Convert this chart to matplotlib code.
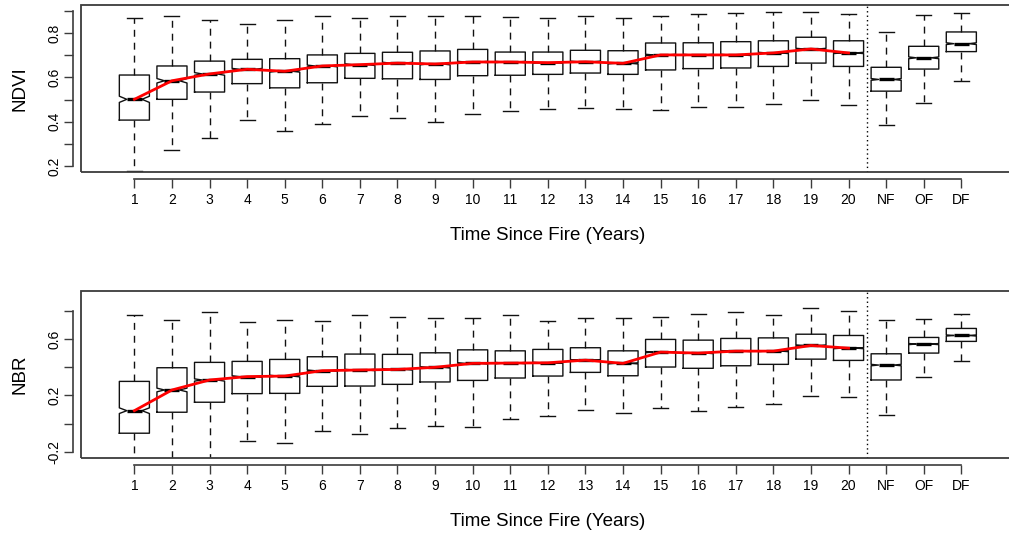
import numpy as np
import matplotlib
matplotlib.use("Agg")
import matplotlib.pyplot as plt
from matplotlib.patches import Rectangle

plt.rcParams['font.family'] = ['Liberation Sans', 'DejaVu Sans']

# Groups: years since fire, then unburnt reference forests
groups = [str(i) for i in range(1, 21)] + ['NF', 'OF', 'DF']

# NDVI box statistics per group
ndvi_whishi = [0.868, 0.877, 0.862, 0.841, 0.860, 0.878, 0.871, 0.878, 0.877, 0.878,
               0.874, 0.871, 0.880, 0.871, 0.880, 0.886, 0.891, 0.898, 0.896, 0.886,
               0.807, 0.884, 0.893]
ndvi_q3 = [0.611, 0.652, 0.674, 0.682, 0.685, 0.702, 0.709, 0.714, 0.720, 0.727,
           0.715, 0.715, 0.723, 0.721, 0.756, 0.757, 0.762, 0.766, 0.782, 0.766,
           0.646, 0.741, 0.806]
ndvi_med = [0.501, 0.585, 0.616, 0.637, 0.628, 0.652, 0.658, 0.665, 0.661, 0.670,
            0.670, 0.667, 0.671, 0.664, 0.702, 0.702, 0.702, 0.711, 0.729, 0.711,
            0.591, 0.689, 0.753]
ndvi_q1 = [0.407, 0.501, 0.534, 0.572, 0.553, 0.576, 0.596, 0.594, 0.591, 0.608,
           0.610, 0.614, 0.620, 0.614, 0.634, 0.640, 0.643, 0.650, 0.665, 0.650,
           0.538, 0.638, 0.717]
ndvi_whislo = [0.177, 0.272, 0.327, 0.408, 0.359, 0.388, 0.427, 0.417, 0.399, 0.433,
               0.449, 0.458, 0.460, 0.458, 0.451, 0.465, 0.465, 0.478, 0.496, 0.475,
               0.386, 0.484, 0.585]
ndvi_notch = [0.014, 0.010, 0.006, 0.004, 0.004, 0.004, 0.004, 0.004, 0.004, 0.003,
              0.003, 0.003, 0.003, 0.003, 0.003, 0.003, 0.003, 0.003, 0.003, 0.003,
              0.004, 0.004, 0.004]

# NBR box statistics per group
nbr_whishi = [0.772, 0.739, 0.796, 0.725, 0.739, 0.727, 0.768, 0.756, 0.749, 0.753,
              0.772, 0.730, 0.749, 0.749, 0.756, 0.777, 0.791, 0.772, 0.819, 0.803,
              0.735, 0.744, 0.779]
nbr_q3 = [0.300, 0.397, 0.435, 0.442, 0.456, 0.475, 0.494, 0.492, 0.503, 0.524,
          0.517, 0.527, 0.539, 0.517, 0.598, 0.593, 0.605, 0.609, 0.635, 0.626,
          0.496, 0.612, 0.676]
nbr_med = [0.092, 0.239, 0.310, 0.334, 0.338, 0.376, 0.381, 0.385, 0.400, 0.428,
           0.430, 0.432, 0.451, 0.428, 0.508, 0.501, 0.515, 0.515, 0.555, 0.536,
           0.416, 0.565, 0.626]
nbr_q1 = [-0.068, 0.081, 0.152, 0.213, 0.215, 0.265, 0.267, 0.279, 0.296, 0.307,
          0.324, 0.338, 0.364, 0.340, 0.402, 0.393, 0.411, 0.421, 0.458, 0.449,
          0.310, 0.501, 0.584]
nbr_whislo = [-0.350, -0.330, -0.320, -0.122, -0.141, -0.053, -0.073, -0.032, -0.014, -0.021,
              0.036, 0.055, 0.097, 0.076, 0.111, 0.090, 0.116, 0.138, 0.199, 0.187,
              0.062, 0.333, 0.446]
nbr_notch = [0.020, 0.013, 0.008, 0.006, 0.006, 0.005, 0.005, 0.005, 0.005, 0.005,
             0.005, 0.004, 0.004, 0.004, 0.004, 0.004, 0.004, 0.004, 0.004, 0.004,
             0.005, 0.004, 0.004]

n_years = 20
W, H = 1009, 536
AX_COL = '#3c3c3c'

fig = plt.figure(figsize=(W / 100, H / 100), dpi=100)


def axes_px(left, top, right, bottom):
    return fig.add_axes([left / W, 1 - bottom / H, (right - left) / W, (bottom - top) / H])


def panel(ax, lo, q1, med, q3, hi, notch, ylim, ybounds, yticks, yticklabels, ylabel,
          label_y, xlabel_y):
    pos = np.arange(1, len(groups) + 1)
    stats = [dict(med=m, q1=a, q3=b, whislo=w0, whishi=w1, cilo=m - n, cihi=m + n, fliers=[])
             for w0, a, m, b, w1, n in zip(lo, q1, med, q3, hi, notch)]
    ax.bxp(stats, positions=pos, widths=0.8, capwidths=0.4, shownotches=True,
           showfliers=False, manage_ticks=False,
           boxprops=dict(color='#111111', linewidth=1.0),
           whiskerprops=dict(color='#111111', linewidth=1.0, linestyle=(0, (5, 4.3))),
           capprops=dict(color='#111111', linewidth=1.0),
           medianprops=dict(color='black', linewidth=2.4, solid_capstyle='butt'))
    # trend of median values through the post-fire years
    ax.plot(pos[:n_years], med[:n_years], color='#ff0000', linewidth=2.0,
            solid_joinstyle='round', zorder=5)
    ax.axvline(n_years + 0.5, color='black', linewidth=1.0, linestyle=(0, (1, 2.2)))

    ax.set_xlim(-0.42, 24.42)
    ax.set_ylim(*ylim)

    for s in ('top', 'right'):
        ax.spines[s].set_visible(False)
    ax.spines['left'].set_position(('outward', 6))
    ax.spines['left'].set_bounds(*ybounds)
    ax.spines['bottom'].set_position(('outward', 4.7))
    ax.spines['bottom'].set_bounds(1, len(groups))
    for s in ('left', 'bottom'):
        ax.spines[s].set_color(AX_COL)
        ax.spines[s].set_linewidth(1.2)
    ax.add_patch(Rectangle((0, 0), 1, 1, transform=ax.transAxes, fill=False,
                           edgecolor=AX_COL, linewidth=1.3, clip_on=False, zorder=6))

    ax.set_xticks(pos, groups)
    ax.set_yticks(yticks, yticklabels)
    ax.tick_params(axis='both', direction='out', length=6.3, width=1.0, color=AX_COL,
                   labelsize=10, labelcolor='black')
    ax.tick_params(axis='x', pad=4)
    ax.tick_params(axis='y', labelrotation=90, pad=1.5)
    for lab in ax.get_yticklabels():
        lab.set_verticalalignment('center')

    fig.text(20 / W, 1 - label_y / H, ylabel, rotation=90, ha='center', va='center',
             fontsize=13.5)
    fig.text(548 / W, 1 - xlabel_y / H, 'Time Since Fire (Years)', ha='center',
             va='center', fontsize=13.5)


ax1 = axes_px(81, 5, 1014.7, 172)
ndvi_ticks = np.round(np.arange(0.2, 0.91, 0.1), 1)
ndvi_labels = ['0.2', '', '0.4', '', '0.6', '', '0.8', '']
panel(ax1, ndvi_whislo, ndvi_q1, ndvi_med, ndvi_q3, ndvi_whishi, ndvi_notch,
      (0.172, 0.928), (0.2, 0.9), ndvi_ticks, ndvi_labels, 'NDVI', 88.5, 235)

ax2 = axes_px(81, 290.7, 1014.7, 458)
nbr_ticks = np.round(np.arange(-0.2, 0.81, 0.2), 1)
nbr_labels = ['-0.2', '', '0.2', '', '0.6', '']
panel(ax2, nbr_whislo, nbr_q1, nbr_med, nbr_q3, nbr_whishi, nbr_notch,
      (-0.244, 0.944), (-0.2, 0.8), nbr_ticks, nbr_labels, 'NBR', 374.3, 521)

fig.savefig('out.png', dpi=100, facecolor='white')
